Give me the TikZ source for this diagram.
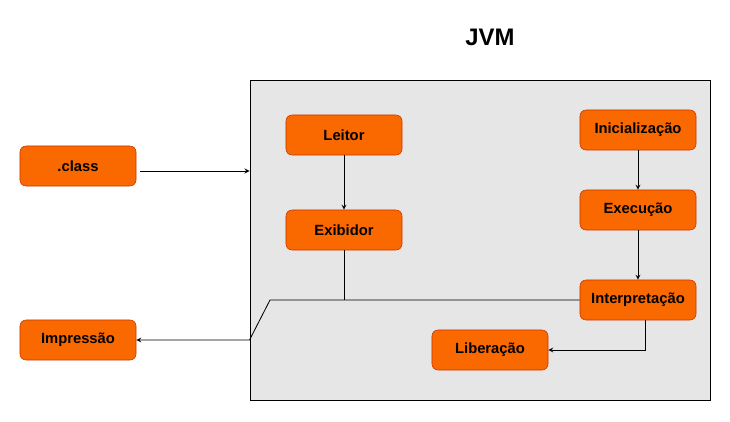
\documentclass[tikz,border=0pt]{standalone}
\usepackage{fontspec}
\setmainfont{Liberation Sans}
\usetikzlibrary{arrows}

\definecolor{boxfill}{HTML}{FA6800}
\definecolor{boxline}{HTML}{C73500}
\definecolor{jvmfill}{HTML}{E6E6E6}

\tikzset{
  stepbox/.style={draw=boxline, fill=boxfill, rounded corners=0.15cm,
    minimum width=2.9cm, minimum height=1cm, inner sep=0pt,
    font=\fontsize{10.5}{12}\selectfont\bfseries},
  link/.style={-stealth, semithick}
}

\begin{document}
\begin{tikzpicture}[x=0.025cm, y=-0.025cm]
      \useasboundingbox (0,0) rectangle (730,421);
      \node[font=\fontsize{17}{20}\selectfont\bfseries] (title) at (490,37) {JVM};
      \node[draw, semithick, fill=jvmfill, minimum width=11.5cm, minimum height=8cm, inner sep=0pt] (jvm) at (480,240) {};
      \node[stepbox] (class) at (78,166) {.class};
      \node[stepbox] (impressao) at (78,340) {Impressão};
      \node[stepbox] (leitor) at (344,135) {Leitor};
      \node[stepbox] (exibidor) at (344,230) {Exibidor};
      \node[stepbox] (inicializacao) at (638,130) {Inicialização};
      \node[stepbox] (execucao) at (638,210) {Execução};
      \node[stepbox] (interpretacao) at (638,300) {Interpretação};
      \node[stepbox] (liberacao) at (490,350) {Liberação};
      \coordinate (classout) at (140,171);
      \coordinate (bend) at (270,300);
      \draw[link] (classout) -- (classout -| jvm.west);
      \draw[link] (leitor) -- (exibidor);
      \draw[link] (inicializacao) -- (execucao);
      \draw[link] (execucao) -- (interpretacao);
      \draw[link] ([xshift=0.175cm]interpretacao.south) |- (liberacao.east);
      \draw[semithick] (exibidor.south) -- (exibidor.south |- interpretacao.west);
      \draw[link] (interpretacao.west) -- (bend) -- (jvm.west |- impressao.east) -- (impressao.east);
\end{tikzpicture}
\end{document}
